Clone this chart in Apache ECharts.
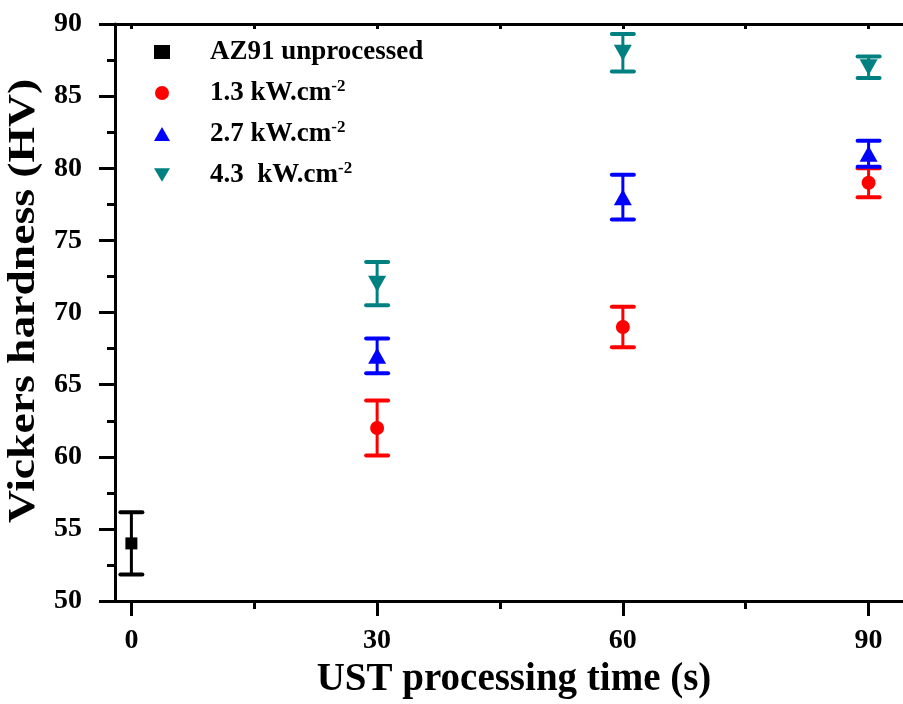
<!DOCTYPE html>
<html>
<head>
<meta charset="utf-8">
<script src="https://cdn.jsdelivr.net/npm/echarts@6/dist/echarts.min.js"></script>
<style>
  html, body { margin: 0; padding: 0; background: #fff; }
  #main { width: 903px; height: 704px; }
</style>
</head>
<body>
<div id="main"></div>
<script>
// hardness readings (HV) with error half-widths
var azTimes = [0];
var azHV = [54];
var azErr = [2.15];

var times = [30, 60, 90];
var hv13 = [62, 69, 79];
var err13 = [1.9, 1.4, 1.0];
var hv27 = [67, 78, 81];
var err27 = [1.2, 1.55, 0.9];
var hv43 = [72, 88, 87];
var err43 = [1.5, 1.3, 0.75];

var majorTicks = [0, 30, 60, 90];
var minorTicks = [15, 45, 75];
var topTicks = [0, 15, 30, 45, 60, 75, 90];

var FONT = 'Liberation Serif';

function pts(xs, ys) {
	return xs.map(function (x, i) { return [x, ys[i]]; });
}
function bars(xs, ys, es) {
	return xs.map(function (x, i) { return [x, ys[i] - es[i], ys[i] + es[i]]; });
}

function errorSeries(name, color, data) {
	return {
		name: name,
		type: 'custom',
		xAxisIndex: 0,
		z: 1,
		data: data,
		renderItem: function (params, api) {
			var x = api.value(0);
			var top = api.coord([x, api.value(2)]);
			var bot = api.coord([x, api.value(1)]);
			var hw = 11;
			return {
				type: 'group',
				children: [
					{ type: 'line', shape: { x1: top[0], y1: top[1], x2: bot[0], y2: bot[1] }, style: { stroke: color, lineWidth: 3 } },
					{ type: 'line', shape: { x1: top[0] - hw, y1: top[1], x2: top[0] + hw, y2: top[1] }, style: { stroke: color, lineWidth: 4, lineCap: 'round' } },
					{ type: 'line', shape: { x1: bot[0] - hw, y1: bot[1], x2: bot[0] + hw, y2: bot[1] }, style: { stroke: color, lineWidth: 4, lineCap: 'round' } }
				]
			};
		}
	};
}

function dotSeries(name, color, symbol, size, data) {
	return {
		name: name,
		type: 'scatter',
		xAxisIndex: 0,
		z: 3,
		symbol: symbol,
		symbolSize: size,
		itemStyle: { color: color, opacity: 1 },
		data: data
	};
}

var downTri = 'path://M0,0 L20,0 L10,17 Z';

var myChart = echarts.init(document.getElementById('main'));
var option = {
	backgroundColor: '#fff',
	animation: false,
	grid: { left: 115, top: 24, right: 0, bottom: 99 },
	legend: {
		orient: 'vertical',
		left: 149,
		top: 32,
		itemWidth: 16,
		itemHeight: 14,
		itemGap: 11,
		data: ['AZ91 unprocessed', '1.3 kW.cm-2', '2.7 kW.cm-2', '4.3  kW.cm-2'],
		formatter: function (name) {
			return name.replace(/-2$/, '{sup|-2}');
		},
		textStyle: {
			fontFamily: FONT,
			fontWeight: 'bold',
			fontSize: 27,
			color: '#000',
			lineHeight: 30,
			padding: [0, 0, 0, 35],
			rich: {
				sup: { fontFamily: FONT, fontWeight: 'bold', fontSize: 17, color: '#000', verticalAlign: 'top', lineHeight: 30 }
			}
		}
	},
	xAxis: [
		{
			type: 'value',
			position: 'bottom',
			min: -2,
			max: 94.2,
			name: 'UST processing time (s)',
			nameLocation: 'middle',
			nameGap: 43,
			nameTextStyle: { fontFamily: FONT, fontWeight: 'bold', fontSize: 39, color: '#000', padding: [0, 0, 0, 10] },
			axisLine: { show: true, onZero: false, lineStyle: { color: '#000', width: 3 } },
			axisTick: { show: true, customValues: majorTicks, length: 15, lineStyle: { color: '#000', width: 3 } },
			axisLabel: { customValues: majorTicks, margin: 26, fontFamily: FONT, fontWeight: 'bold', fontSize: 28, color: '#000' },
			splitLine: { show: false }
		},
		{
			type: 'value',
			position: 'bottom',
			min: -2,
			max: 94.2,
			axisLine: { show: false, onZero: false },
			axisTick: { show: true, customValues: minorTicks, length: 8, lineStyle: { color: '#000', width: 3 } },
			axisLabel: { show: false },
			splitLine: { show: false }
		},
		{
			type: 'value',
			position: 'top',
			min: -2,
			max: 94.2,
			axisLine: { show: true, onZero: false, lineStyle: { color: '#000', width: 3 } },
			axisTick: { show: true, inside: true, customValues: topTicks, length: 5, lineStyle: { color: '#000', width: 3 } },
			axisLabel: { show: false },
			splitLine: { show: false }
		}
	],
	yAxis: {
		type: 'value',
		min: 50,
		max: 90,
		interval: 5,
		axisLine: { show: true, onZero: false, lineStyle: { color: '#000', width: 3 } },
		axisTick: { show: true, length: 16, lineStyle: { color: '#000', width: 3 } },
		minorTick: { show: true, splitNumber: 2, length: 8, lineStyle: { color: '#000', width: 3 } },
		axisLabel: { margin: 33, fontFamily: FONT, fontWeight: 'bold', fontSize: 28, color: '#000' },
		splitLine: { show: false },
		minorSplitLine: { show: false }
	},
	graphic: [
		{
			type: 'text',
			x: 24,
			y: 301,
			rotation: Math.PI / 2,
			scaleX: 1.2,
			style: {
				text: 'Vickers hardness (HV)',
				font: 'bold 38px "Liberation Serif"',
				fill: '#000',
				align: 'center',
				verticalAlign: 'middle',
				textAlign: 'center',
				textVerticalAlign: 'middle'
			}
		}
	],
	series: [
		errorSeries('err-az', '#000', bars(azTimes, azHV, azErr)),
		errorSeries('err-13', '#ff0000', bars(times, hv13, err13)),
		errorSeries('err-27', '#0000ff', bars(times, hv27, err27)),
		errorSeries('err-43', '#008080', bars(times, hv43, err43)),
		dotSeries('AZ91 unprocessed', '#000', 'rect', 12, pts(azTimes, azHV)),
		dotSeries('1.3 kW.cm-2', '#ff0000', 'circle', 14, pts(times, hv13)),
		dotSeries('2.7 kW.cm-2', '#0000ff', 'triangle', [18, 16], pts(times, hv27)),
		dotSeries('4.3  kW.cm-2', '#008080', downTri, [18, 16], pts(times, hv43))
	]
};
myChart.setOption(option);
</script>
</body>
</html>
